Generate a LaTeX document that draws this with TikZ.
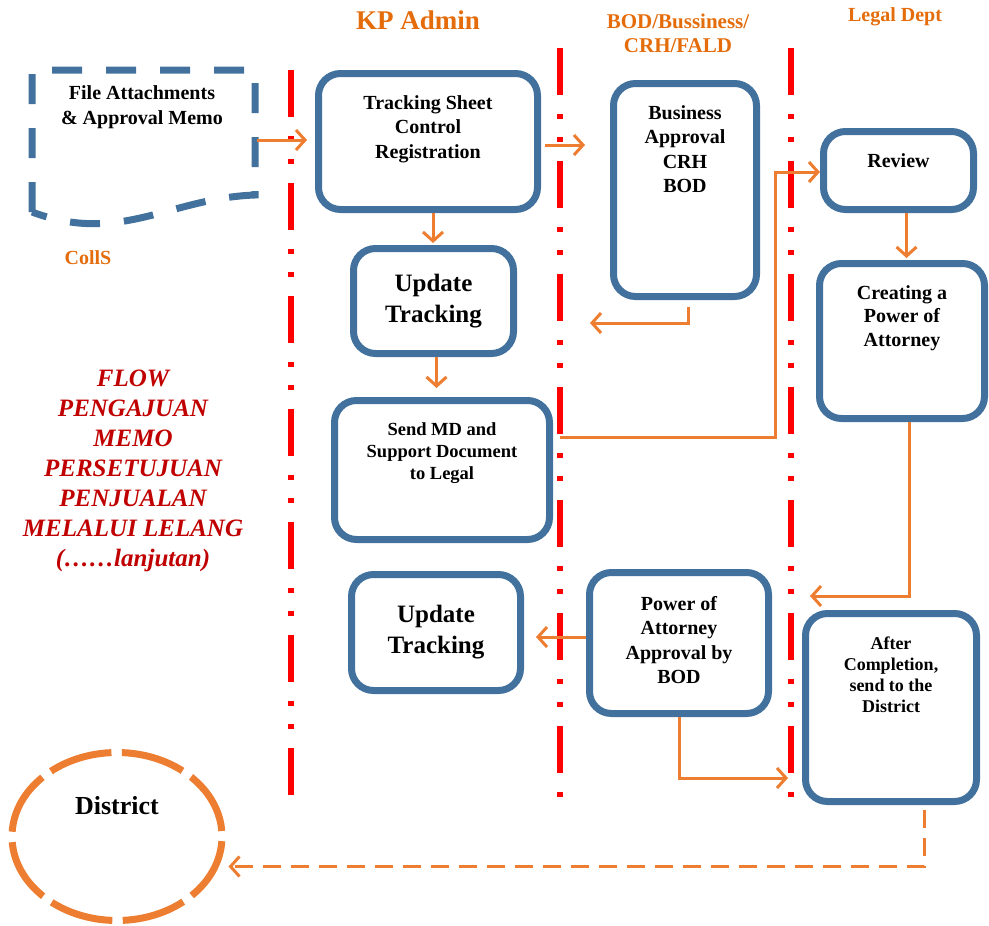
\documentclass[tikz,border=0pt]{standalone}
\usepackage{fontspec}
\setmainfont{Liberation Serif}
\usepackage{tikz}
\usetikzlibrary{arrows.meta,shapes.geometric}
\definecolor{boxblue}{HTML}{41719C}
\definecolor{arrorange}{HTML}{ED7D31}
\definecolor{headorange}{HTML}{E46C0A}
\definecolor{titlered}{HTML}{C00000}

\begin{document}
\begin{tikzpicture}[x=1pt,y=-1pt,
  box/.style={draw=boxblue,line width=7pt,rounded corners=22pt,fill=white,inner sep=0pt,align=center,font=\fontsize{25}{31}\selectfont\bfseries},
  boxtext/.style={anchor=north,yshift=-25pt,inner sep=0pt,align=center,font=\fontsize{20}{24.5}\selectfont\bfseries},
  flow/.style={draw=arrorange,line width=3pt,-{Straight Barb[length=9pt,width=20pt]}},
  lane/.style={draw=red,line width=6pt,dash pattern=on 47pt off 19pt on 5pt off 18pt on 5pt off 19pt},
  head/.style={text=headorange}]
\useasboundingbox (0,0) rectangle (989,926);

\foreach \lx/\ly in {291/70,560/48,791/48}{
  \draw[lane] (\lx,\ly) -- (\lx,802);
}

\node[head,font=\fontsize{27}{30}\selectfont\bfseries] (kp) at (418,20) {KP Admin};
\node[head,align=center,font=\fontsize{21}{24}\selectfont\bfseries] (bod) at (678,33) {BOD/Bussiness/\\CRH/FALD};
\node[head,font=\fontsize{20}{22}\selectfont\bfseries] (legal) at (895,17) {Legal Dept};
\node[head,font=\fontsize{20}{22}\selectfont\bfseries] (colls) at (88,258) {CollS};

\draw[boxblue,line width=7pt,dash pattern=on 30pt off 24pt] (32,212) -- (32,70) -- (255,70) -- (255,195) .. controls (170,198) and (120,245) .. (32,212);
\node[font=\fontsize{20}{25}\selectfont\bfseries,align=center] (doc) at (142,107.5) {File Attachments\\\& Approval Memo};

\node[text=titlered,font=\fontsize{25}{30}\selectfont\bfseries\itshape,align=center] (title) at (133,471) {FLOW\\PENGAJUAN\\MEMO\\PERSETUJUAN\\PENJUALAN\\MELALUI LELANG\\(……lanjutan)};

\node[box,minimum width=219pt,minimum height=136pt,label={[boxtext]north:{Tracking Sheet\\Control\\Registration}}] (track) at (428,141.5) {};
\node[box,minimum width=160pt,minimum height=105pt] (upd1) at (433.5,301) {Update\\Tracking};
\node[box,minimum width=215pt,minimum height=139pt,label={[boxtext,font=\fontsize{18.5}{22}\selectfont\bfseries]north:{Send MD and\\Support Document\\to Legal}}] (send) at (442,470) {};
\node[box,minimum width=169pt,minimum height=116pt] (upd2) at (436,632.5) {Update\\Tracking};
\node[box,minimum width=143pt,minimum height=213pt,label={[boxtext]north:{Business\\Approval\\CRH\\BOD}}] (bizapp) at (685,190) {};
\node[box,minimum width=150pt,minimum height=78pt,label={[boxtext]north:{Review}}] (review) at (898.5,170.5) {};
\node[box,minimum width=165pt,minimum height=155pt,label={[boxtext,font=\fontsize{20}{23.5}\selectfont\bfseries]north:{Creating a\\Power of\\Attorney}}] (poa) at (902,341) {};
\node[box,minimum width=179pt,minimum height=141pt,label={[boxtext,yshift=-2pt]north:{Power of\\Attorney\\Approval by\\BOD}}] (poaapp) at (679,643) {};
\node[box,minimum width=171pt,minimum height=188pt,label={[boxtext,yshift=-2pt,font=\fontsize{18}{21}\selectfont\bfseries]north:{After\\Completion,\\send to the\\District}}] (after) at (891,707.5) {};

\node[ellipse,draw=arrorange,line width=7pt,dash pattern=on 64pt off 10.5pt,dash phase=69pt,minimum width=210pt,minimum height=168pt,inner sep=0pt,label={[anchor=north,yshift=-47pt,inner sep=0pt,font=\fontsize{26}{30}\selectfont\bfseries]north:District}] (district) at (117,836.5) {};

\coordinate (docout) at (257,140);
\coordinate (bizback) at (590,323);
\coordinate (poaout) at (810,596);
\coordinate (bodout) at (788,778);

\draw[flow,shorten >=8pt] (docout) -- (docout -| track.west);
\draw[flow,shorten >=25pt] ([xshift=4pt,yshift=-3.5pt]track.east) -- ([yshift=-3.5pt]track.east -| bizapp.west);
\draw[flow,shorten >=2pt] ([xshift=5pt]track.south) -- ([xshift=5pt]track.south |- upd1.north);
\draw[flow,shorten >=9pt] ([xshift=3pt]upd1.south) -- ([xshift=3pt]upd1.south |- send.north);
\draw[flow] ([xshift=3pt,yshift=-7pt]bizapp.south) |- (bizback);
\draw[flow] ([xshift=7pt,yshift=33pt]send.east) -| ([xshift=-45pt,yshift=-1.5pt]review.west) -- ([yshift=-1.5pt]review.west);
\draw[flow,shorten >=2pt] ([xshift=8pt]review.south) -- ([xshift=8pt]review.south |- poa.north);
\draw[flow] ([xshift=7pt]poa.south) |- (poaout);
\draw[flow,shorten >=12pt] ([yshift=6pt]poaapp.west) -- ([yshift=6pt]poaapp.west -| upd2.east);
\draw[flow] (poaapp.south) |- (bodout);
\draw[flow,dash pattern=on 18pt off 10pt] ([xshift=33pt,yshift=-5pt]after.south) |- ([xshift=3pt,yshift=-30pt]district.east);
\end{tikzpicture}
\end{document}
